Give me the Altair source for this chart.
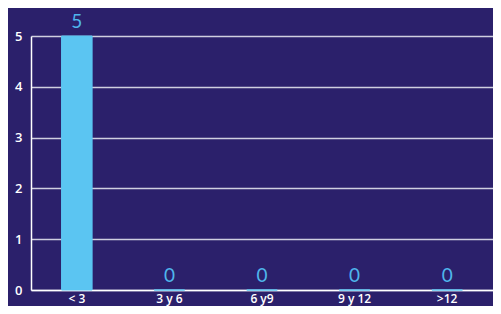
import altair as alt
import pandas as pd

categories = ["< 3", "3 y 6", "6 y9", "9 y 12", ">12"]
values = [5, 0, 0, 0, 0]

df = pd.DataFrame({"cat": categories, "val": values})

BG = "#2B206B"
BAR = "#5BC5F2"
LBL = "#4FB6EC"

base = alt.Chart(df).encode(
    x=alt.X("cat:N", sort=categories,
            scale=alt.Scale(paddingInner=0.67, paddingOuter=0.33),
            axis=alt.Axis(title=None, labelAngle=0, labelColor="white", labelFont="Open Sans",
                          labelFontSize=12, labelFontWeight=600, labelPadding=3, tickSize=0,
                          domainColor="white", domainWidth=1.5, grid=False)),
)

bars = base.mark_bar(color=BAR, stroke=BAR, strokeWidth=1).encode(
    y=alt.Y("val:Q", scale=alt.Scale(domain=[0, 5]),
            axis=alt.Axis(title=None, values=[0, 1, 2, 3, 4, 5], labelColor="white",
                          labelFont="Open Sans", labelFontSize=13, labelFontWeight=600,
                          labelPadding=9, tickSize=0, domainColor="white", domainWidth=1.5,
                          grid=True, gridColor="#CFCFE0", gridWidth=1.5))
)

text = base.mark_text(color=LBL, font="Lato", fontSize=19, fontWeight="normal",
                      baseline="bottom", dy=-4).encode(
    y=alt.Y("val:Q"),
    text=alt.Text("val:Q"),
)

chart = (bars + text).properties(
    width=462, height=254,
    background=BG,
    padding={"left": 23, "top": 28, "right": 0, "bottom": 16},
    autosize=alt.AutoSizeParams(type="none"),
).configure_view(stroke=None)

chart.save("out.html", embed_options={"renderer": "svg", "actions": False})
